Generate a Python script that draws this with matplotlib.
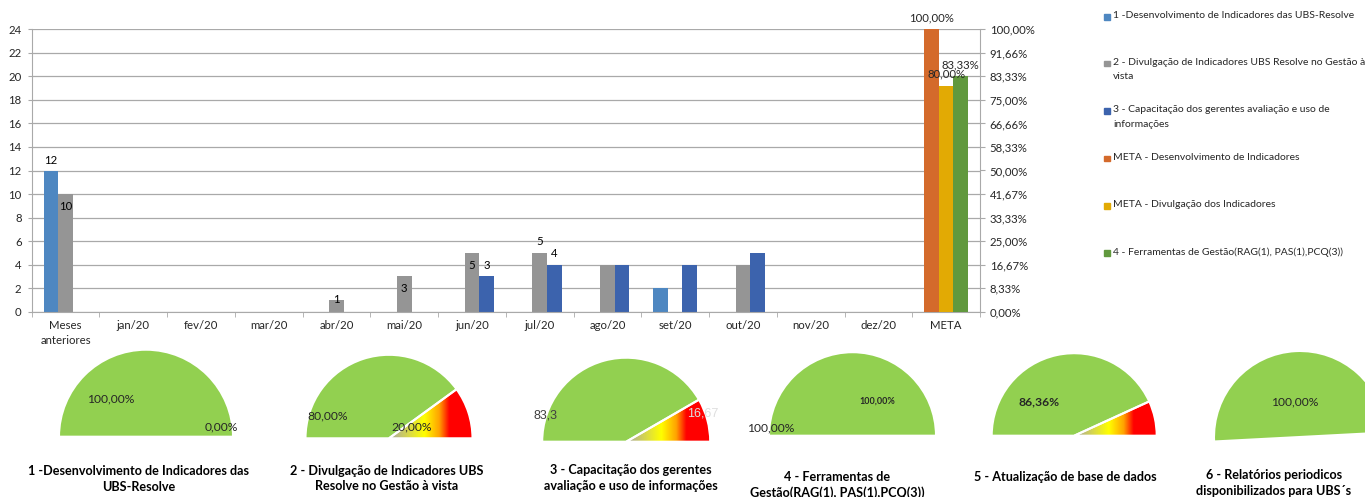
import numpy as np
import matplotlib
matplotlib.use("Agg")
import matplotlib.pyplot as plt
from matplotlib.patches import Rectangle
from matplotlib.colors import LinearSegmentedColormap

W, H = 1365, 497

# ---- dados do gráfico de barras ----
categorias = ["Meses\nanteriores", "jan/20", "fev/20", "mar/20", "abr/20", "mai/20",
              "jun/20", "jul/20", "ago/20", "set/20", "out/20", "nov/20", "dez/20", "META"]
serie1 = [12, 0, 0, 0, 0, 0, 0, 0, 0, 2, 0, 0, 0]
serie2 = [10, 0, 0, 0, 1, 3, 5, 5, 4, 0, 4, 0, 0]
serie3 = [0, 0, 0, 0, 0, 0, 3, 4, 4, 4, 5, 0, 0]
meta_vals = [100.0, 80.0, 83.33]
meta_labels = ["100,00%", "80,00%", "83,33%"]
pct_ticks = [0, 8.33, 16.67, 25, 33.33, 41.67, 50, 58.33, 66.66, 75, 83.33, 91.66, 100]
pct_labels = ["0,00%", "8,33%", "16,67%", "25,00%", "33,33%", "41,67%", "50,00%",
              "58,33%", "66,66%", "75,00%", "83,33%", "91,66%", "100,00%"]
legend_labels = [
    "1 -Desenvolvimento de Indicadores das UBS-Resolve",
    "2 - Divulgação de Indicadores UBS Resolve no Gestão à\nvista",
    "3 - Capacitação dos gerentes avaliação e uso de\ninformações",
    "META - Desenvolvimento de Indicadores",
    "META - Divulgação dos Indicadores",
    "4 - Ferramentas de Gestão(RAG(1), PAS(1),PCQ(3))",
]

# ---- dados dos velocímetros ----
gauge_vals = [100.0, 80.0, 83.33, 100.0, 86.36, 100.0]
gauge_titles = [
    "1 -Desenvolvimento de Indicadores das\nUBS-Resolve",
    "2 - Divulgação de Indicadores UBS\nResolve no Gestão à vista",
    "3 - Capacitação dos gerentes\navaliação e uso de informações",
    "4 - Ferramentas de\nGestão(RAG(1), PAS(1),PCQ(3))",
    "5 - Atualização de base de dados",
    "6 - Relatórios periodicos\ndisponibilizados para UBS´s",
]

bar_colors = ["#4e87c1", "#959595", "#3c63ad"]
meta_colors = ["#d46a2b", "#e2aa04", "#61993e"]
GREEN = "#92d050"
TXT = "#262626"
GRID = "#a9a9a9"
FS = 8.2

plt.rcParams["font.family"] = ["Lato", "DejaVu Sans"]

fig = plt.figure(figsize=(W / 100, H / 100), dpi=100)

# ---------------- gráfico de barras ----------------
x0, x1, ytop, ybot = 31.7, 980.0, 29.3, 311.7
ax = fig.add_axes([x0 / W, (H - ybot) / H, (x1 - x0) / W, (ybot - ytop) / H])
bw = 0.215
idx = np.arange(len(serie1))
for k, vals in enumerate([serie1, serie2, serie3]):
    ax.bar(idx + (k - 1) * bw, vals, bw, color=bar_colors[k], zorder=2)

ax.set_xlim(-0.5, 13.5)
ax.set_ylim(0, 24)
ax.set_yticks(range(0, 25, 2))
ax.yaxis.grid(True, color=GRID, lw=0.9)
ax.set_axisbelow(True)
ax.set_xticks(range(14))
ax.set_xticklabels(categorias, fontsize=FS, color=TXT, linespacing=1.35)
ax.set_xticks(np.arange(-0.5, 14, 1), minor=True)
ax.tick_params(axis="x", which="major", length=0, pad=6.3)
ax.tick_params(axis="x", which="minor", length=3.6, color=GRID)
ax.tick_params(axis="y", length=3, color=GRID, labelsize=FS, labelcolor=TXT, pad=4.3)
for s in ["top", "right"]:
    ax.spines[s].set_visible(False)
ax.spines["left"].set_color(GRID)
ax.spines["bottom"].set_color(GRID)

# rótulos de dados (deslocamento em pixels a partir do topo da barra)
rotulos = {(0, 0): 10.5, (1, 0): -12, (1, 4): 0, (1, 5): -12,
           (1, 6): -13, (2, 6): 11, (1, 7): 11, (2, 7): 11}
series = [serie1, serie2, serie3]
for (k, c), dy in rotulos.items():
    v = series[k][c]
    ax.annotate(str(v), (c + (k - 1) * bw, v), xytext=(0, dy),
                textcoords="offset pixels", ha="center", va="center",
                fontsize=FS, color="black", zorder=5)

ax2 = ax.twinx()
xm = 13 + np.array([-1, 0, 1]) * bw
ax2.bar(xm, meta_vals, bw, color=meta_colors, zorder=2)
ax2.set_ylim(0, 100)
ax2.set_yticks(pct_ticks)
ax2.set_yticklabels(pct_labels)
ax2.tick_params(axis="y", length=3.6, color=GRID, labelsize=FS, labelcolor=TXT, pad=3.4)
for s in ["top", "left", "bottom"]:
    ax2.spines[s].set_visible(False)
ax2.spines["right"].set_color(GRID)
for xi, v, lab in zip(xm, meta_vals, meta_labels):
    ax2.annotate(lab, (xi, v), xytext=(0, 11.5), textcoords="offset pixels",
                 ha="center", va="center", fontsize=FS, color=TXT)

# ---------------- camada em pixels (legenda + velocímetros) ----------------
ov = fig.add_axes([0, 0, 1, 1])
ov.set_axis_off()

leg_y = [16.7, 63.3, 111.0, 158.3, 205.7, 252.7]
for lab, c, y in zip(legend_labels, bar_colors + meta_colors, leg_y):
    ov.add_patch(Rectangle((1104.3, H - y - 3), 5.8, 5.8, color=c))
    ov.text(1113.3, H - y + 5.5, lab, ha="left", va="top", fontsize=7.5,
            color=TXT, linespacing=1.75)

cmap = LinearSegmentedColormap.from_list(
    "grad", [(0, "#a6a6a6"), (0.42, "#ffff00"), (0.6, "#ffa200"),
             (0.72, "#ff0000"), (1, "#ff0000")])
grad = np.linspace(0, 1, 256).reshape(1, -1)

g_pos = [(146.0, 436.7, 87.0, 180), (389.0, 438.3, 83.5, 180),
         (626.2, 441.7, 84.0, 180), (852.5, 435.7, 83.5, 180),
         (1074.2, 435.7, 82.5, 180), (1300.0, 437.0, 86.0, 183)]
for val, (cx, cy, r, st) in zip(gauge_vals, g_pos):
    wedges, _ = ov.pie([val, 100 - val, 100], center=(cx, H - cy), radius=r,
                       startangle=st, counterclock=False, frame=True,
                       colors=[GREEN, "none", "none"],
                       wedgeprops=dict(edgecolor="white", linewidth=1.5))
    wedges[2].set_visible(False)
    if val < 100:
        im = ov.imshow(grad, cmap=cmap, extent=[cx, cx + r, H - cy, H - cy + r],
                       aspect="auto", interpolation="bilinear", zorder=0.5)
        im.set_clip_path(wedges[1])
    else:
        wedges[1].set_visible(False)

gauge_text = [
    (111, 399, "100,00%", dict(fontsize=8.7, color=TXT)),
    (221, 427, "0,00%", dict(fontsize=8.7, color=TXT)),
    (327.5, 416, "80,00%", dict(fontsize=8.7, color=TXT)),
    (411.7, 427.3, "20,00%", dict(fontsize=8.7, color=TXT)),
    (545, 416, "83,3", dict(fontsize=9, color="#404040", family="Liberation Sans")),
    (703, 414, "16,67", dict(fontsize=9, color="#dedede", family="Liberation Sans")),
    (770.7, 427.7, "100,00%", dict(fontsize=8.7, color=TXT)),
    (877, 401, "100,00%", dict(fontsize=6.5, color=TXT, fontweight="bold")),
    (1039.5, 402.3, "86,36%", dict(fontsize=8.7, color=TXT, fontweight="bold")),
    (1295, 402.3, "100,00%", dict(fontsize=8.7, color=TXT)),
]
for gx, gy, t, kw in gauge_text:
    ov.text(gx, H - gy, t, ha="center", va="center", **kw)

title_pos = [(138.5, 471.7), (386.5, 471.5), (630.5, 470.7),
             (837.5, 477.3), (1065, 477.3), (1274, 475.7)]
for (tx, ty), t in zip(title_pos, gauge_titles):
    ov.text(tx, H - ty + 6.5, t, ha="center", va="top", fontsize=9.1,
            fontweight="bold", color="black", linespacing=1.35)

ov.set_xlim(0, W)
ov.set_ylim(0, H)

fig.savefig("out.png", dpi=100)
